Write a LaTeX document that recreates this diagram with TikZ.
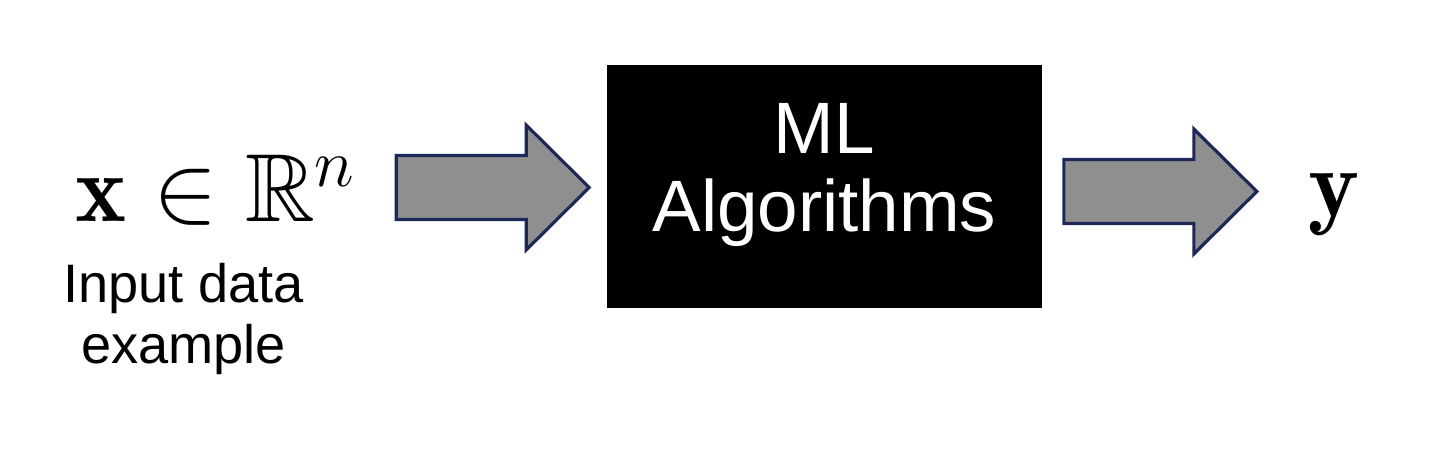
\RequirePackage{fix-cm}
\documentclass[tikz,border=0pt]{standalone}
\usepackage{amsmath,amssymb}
\usepackage{fontspec}
\newfontfamily\arialfont{Liberation Sans}
\usetikzlibrary{calc}
\definecolor{arrowgray}{RGB}{143,143,143}
\definecolor{arrowline}{RGB}{28,40,88}

\begin{document}
\begin{tikzpicture}[x=0.01cm, y=-0.01cm,
    mathtext/.style={inner sep=0pt, font=\fontsize{27.5}{32}\selectfont},
    labeltext/.style={inner sep=0pt, align=center, font=\arialfont\fontsize{15.4}{17.1}\selectfont},
    mlbox/.style={fill=black, inner sep=0pt, minimum width=4.35cm, minimum height=2.43cm},
    mltext/.style={inner sep=0pt, align=center, text=white, font=\arialfont\fontsize{20.7}{22.1}\selectfont},
    arrowshape/.style={fill=arrowgray, draw=arrowline, line width=0.9pt, line join=miter},
    blockarrow/.pic={\draw[arrowshape] (0,-32) -- (130,-32) -- (130,-62.5) -- (193,0) -- (130,62.5) -- (130,32) -- (0,32) -- cycle;}]
  \useasboundingbox (0,0) rectangle (1454,458);
  % ------------------------------------------------------------------ input
  \node[mathtext, anchor=base] (input) at (216,222) {$\mathbf{x}\in\mathbb{R}^n$};
  \node[labeltext, anchor=north] (inputlabel) at (183.5,263) {Input data\\example};
  % ------------------------------------------------------------------ the black box
  \node[mlbox] (box) at (824.5,186.5) {};
  \node[mltext] (boxtext) at (824.5,175) {ML\\Algorithms};
  % ------------------------------------------------------------------ output
  \node[mathtext, anchor=base] (output) at (1334.5,217) {$\mathbf{y}$};
  % ------------------------------------------------------------------ block arrows in and out
  \pic at ($(box.west)+(-210,1)$) {blockarrow};
  \pic at ($(box.east)+(21,5)$) {blockarrow};
\end{tikzpicture}
\end{document}
